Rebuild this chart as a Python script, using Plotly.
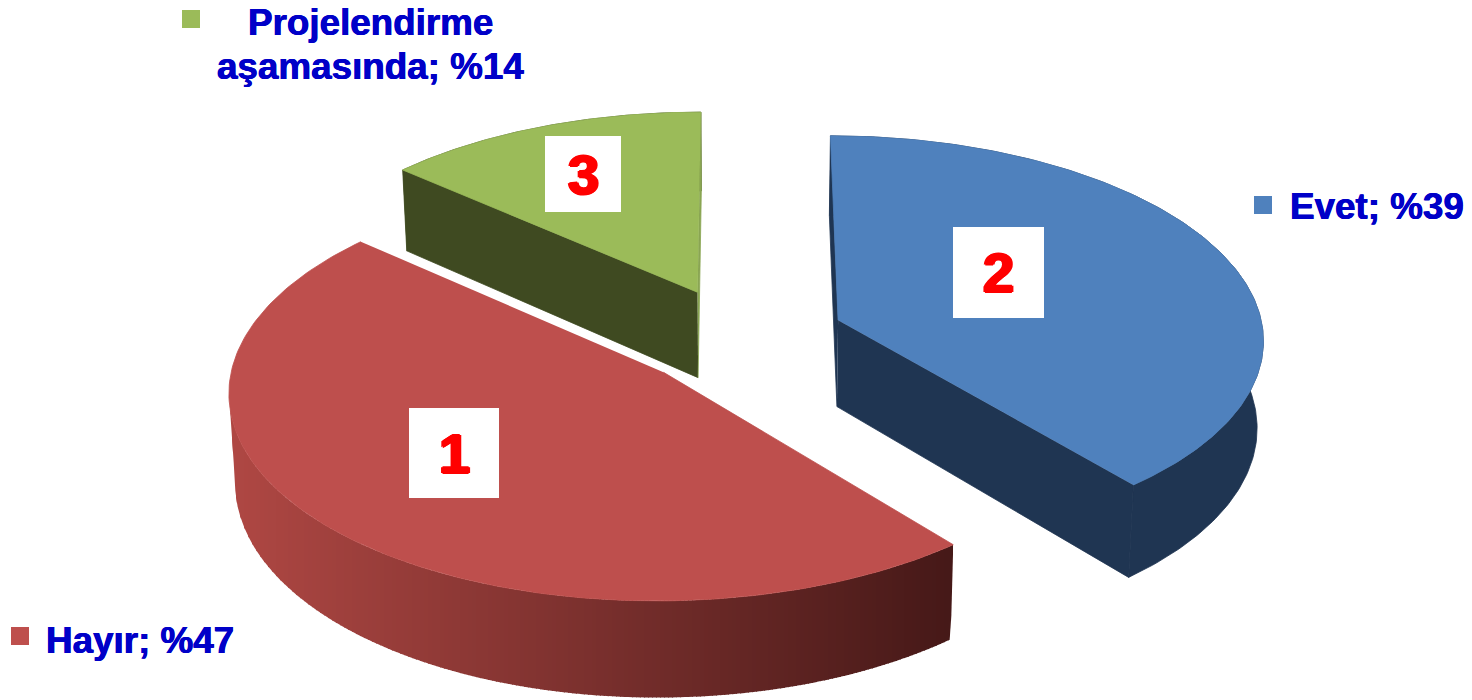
import numpy as np
import plotly.graph_objects as go

# ---- data ----
categories = ["Evet", "Hayır", "Projelendirme\naşamasında"]
percent_labels = [39, 47, 14]          # as printed
slice_sizes = [39, 47.5, 13.5]
slice_numbers = ["2", "1", "3"]
top_colors = ["#4F81BD", "#BE4F4D", "#9BBB59"]
wall_colors = ["#1F3552", None, "#3F4A21"]
radial_start_colors = ["#1F3552", "#4A1A18", "#3F4A21"]
radial_end_colors = ["#1F3552", "#4A1A18", "#8AA653"]

# ---- projection (tilted, exploded pie) ----
W, H = 1472, 700
CX, CY = 740, 337
R, EXPLODE, TILT, DEPTH, PERSP, SHRINK = 426, 105, 0.476, 87, 0.0002, 0.012


def project(x, y, z):
    s = 1 / (1 + PERSP * y)
    return CX + x * s * (1 - SHRINK * z), CY - y * TILT * s + z * DEPTH * s


def rim(th, ox, oy, z):
    return project(ox + R * np.sin(th), oy + R * np.cos(th), z)


def poly(fig, xs, ys, color, width=0.8):
    fig.add_trace(go.Scatter(x=list(xs), y=list(ys), mode="lines", fill="toself",
                             fillcolor=color, line=dict(color=color, width=width),
                             hoverinfo="skip", showlegend=False))


def gradient_wall(fig, tx, ty, bx, by):
    """Vertical one-colour strips, so the shading bands run straight down as in the picture."""
    c0, c1 = np.array([176, 72, 68]), np.array([70, 25, 24])
    left = int(np.argmin(tx))
    ux, uy = tx[:left + 1][::-1], ty[:left + 1][::-1]
    lf = int(np.argmin(bx))
    lx = np.r_[tx[left], bx[:lf + 1][::-1], tx[0]]
    ly = np.r_[ty[left], by[:lf + 1][::-1], ty[0]]
    edges = np.arange(int(np.floor(ux[0])), int(np.ceil(ux[-1])) + 1, 4)
    xmin, xmax = edges[0], edges[-1]
    for e0, e1 in zip(edges[:-1], edges[1:]):
        f = ((e0 + e1) / 2 - xmin) / (xmax - xmin)
        c = (c0 + (c1 - c0) * f).astype(int)
        strip_x = np.linspace(e0, e1 + 1, 4)
        top = np.interp(strip_x, ux, uy)
        bot = np.interp(strip_x, lx, ly)
        fig.add_trace(go.Scatter(x=np.r_[strip_x, strip_x[::-1]], y=np.r_[top, bot[::-1]],
                                 mode="lines", fill="toself", fillcolor=f"rgb({c[0]},{c[1]},{c[2]})",
                                 line=dict(width=0), hoverinfo="skip", showlegend=False))


fig = go.Figure()
shares = np.array(slice_sizes) / sum(slice_sizes) * 2 * np.pi
starts = np.concatenate([[0], np.cumsum(shares)[:-1]])

for i in [2, 0, 1]:
    a0, a1 = starts[i], starts[i] + shares[i]
    mid = (a0 + a1) / 2
    ox, oy = EXPLODE * np.sin(mid), EXPLODE * np.cos(mid)
    th = np.linspace(a0, a1, 161)
    ax0, ay0 = project(ox, oy, 0)
    ax1, ay1 = project(ox, oy, 1)
    tx, ty = rim(th, ox, oy, 0)
    bx, by = rim(th, ox, oy, 1)
    if wall_colors[i]:
        poly(fig, np.r_[tx, bx[::-1]], np.r_[ty, by[::-1]], wall_colors[i])
        for t, col in ((a0, radial_start_colors[i]), (a1, radial_end_colors[i])):
            rx0, ry0 = rim(t, ox, oy, 0)
            rx1, ry1 = rim(t, ox, oy, 1)
            poly(fig, [ax0, rx0, rx1, ax1], [ay0, ry0, ry1, ay1], col)
    else:
        gradient_wall(fig, tx, ty, bx, by)
    poly(fig, np.r_[ax0, tx], np.r_[ay0, ty], top_colors[i])

TXT = "#0000C8"
FONT = "Liberation Sans"
label_pos = [(1288, 206, "left"), (44, 640, "left"), (370, 44, "center")]
key_pos = [(1263, 205), (20, 636), (191, 19)]
box_pos = [(953, 227, 1044, 318), (409, 408, 499, 498), (545, 136, 621, 212)]
RED = "#FF0000"
THICK = f"1.4px 0 {RED}, -1.4px 0 {RED}, 0 1.2px {RED}, 0 -1.2px {RED}"
THIN = f"0.4px 0 {TXT}, -0.4px 0 {TXT}"

shapes = []
annotations = []
for i, cat in enumerate(categories):
    x, y, anchor = label_pos[i]
    lines = f"{cat}; %{percent_labels[i]}".split("\n")
    for n, line in enumerate(lines):
        yy = y + (n - (len(lines) - 1) / 2) * 44
        annotations.append(dict(x=x, y=yy, text=f"<b>{line}</b>", showarrow=False, xanchor=anchor,
                                yanchor="middle",
                                font=dict(family=FONT, size=36.8, color=TXT, shadow=THIN)))
    kx, ky = key_pos[i]
    shapes.append(dict(type="rect", x0=kx - 9, x1=kx + 9, y0=ky - 9, y1=ky + 9,
                       fillcolor=top_colors[i], line_width=0, layer="above"))
    bx0, by0, bx1, by1 = box_pos[i]
    shapes.append(dict(type="rect", x0=bx0, x1=bx1, y0=by0, y1=by1,
                       fillcolor="white", line_width=0, layer="above"))
    annotations.append(dict(x=(bx0 + bx1) / 2, y=(by0 + by1) / 2, text=f"<b>{slice_numbers[i]}</b>",
                            showarrow=False, xanchor="center", yanchor="middle",
                            font=dict(family=FONT, size=56, color=RED, shadow=THICK)))

fig.update_layout(
    width=W, height=H, margin=dict(l=0, r=0, t=0, b=0),
    paper_bgcolor="white", plot_bgcolor="white", showlegend=False,
    xaxis=dict(range=[0, W], visible=False, fixedrange=True),
    yaxis=dict(range=[H, 0], visible=False, fixedrange=True),
    shapes=shapes, annotations=annotations,
)
fig.write_html("out.html", config=dict(displayModeBar=False),
               post_script="document.body.style.margin='0';document.body.style.overflow='hidden';")
